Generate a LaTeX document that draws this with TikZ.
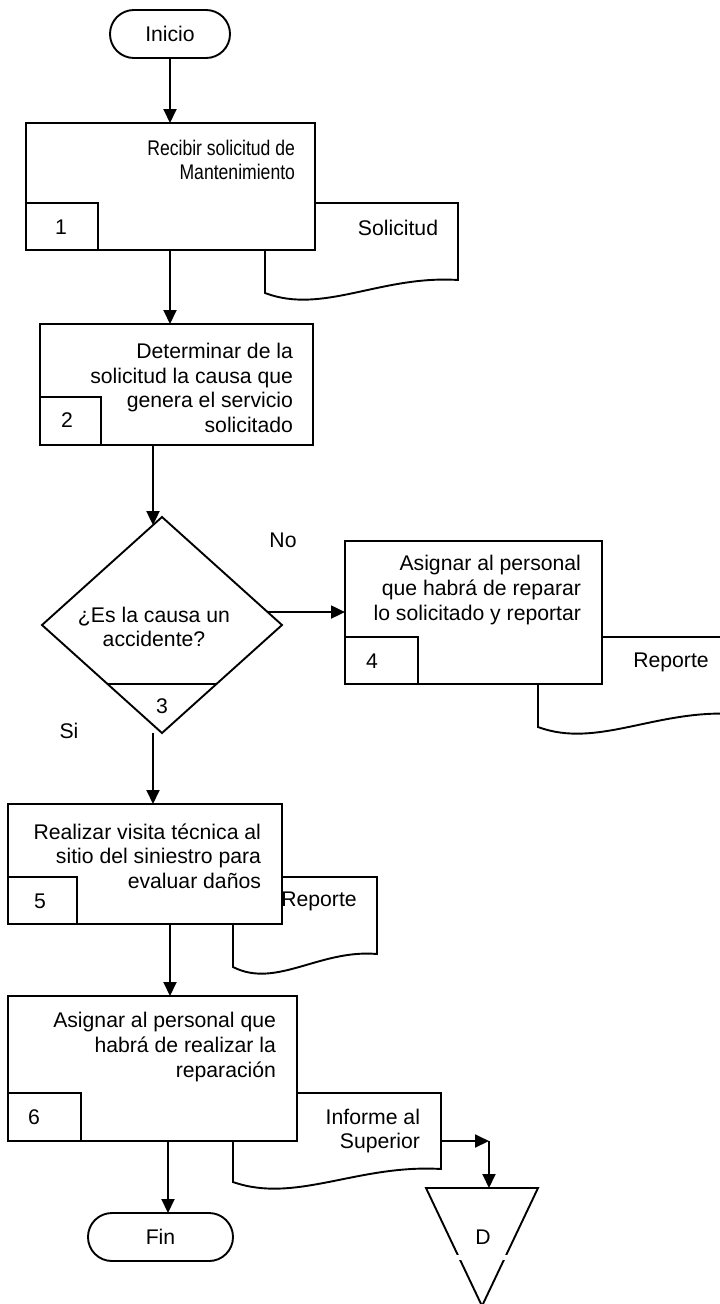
\documentclass[tikz,border=0pt]{standalone}
\usepackage{fontspec}
\setmainfont{Liberation Sans}
\newfontfamily\narrowsans{Liberation Sans}[FakeStretch=0.83]
\usetikzlibrary{arrows.meta,calc,shapes.geometric}

% document symbol: left x, top y, right x, lower-left y (wavy bottom rises to the right)
\newcommand\drawdoc[4]{%
  \draw[stroke, fill=white] (#1,#4) -- (#1,#2) -- (#3,#2) -- (#3,{#4-13})
    .. controls ({#1+0.6*(#3-#1)},{#4-18}) and ({#1+0.3*(#3-#1)},{#4+22}) .. (#1,#4) -- cycle;}

\begin{document}
\begin{tikzpicture}[x=1pt,y=-1pt,
  every node/.style={font=\fontsize{21.2}{24.7}\selectfont, inner sep=0pt, outer sep=0pt},
  stroke/.style={line width=1.9pt, line join=miter},
  procbox/.style={stroke, draw, fill=white, rectangle, anchor=north west},
  numbox/.style={stroke, draw, fill=white, rectangle, anchor=north west},
  terminal/.style={stroke, draw, fill=white, rectangle, rounded corners=23.9pt,
    minimum height=48pt},
  decision/.style={stroke, draw, fill=white, diamond, minimum width=240pt, minimum height=216pt},
  steptext/.style={anchor=east, align=right},
  flow/.style={stroke, -{Triangle[length=14pt,width=13pt]}}
]
\useasboundingbox (0,0) rectangle (720,1304);
\clip (0,0) rectangle (720,1304);

% documents produced by the steps (drawn behind the step boxes)
\drawdoc{265}{203}{458}{293}
\drawdoc{538}{637}{735}{727}
\drawdoc{233}{877}{377}{967}
\drawdoc{233}{1093}{441}{1182}

% start
\node[terminal, minimum width=120pt] (inicio) at (170,34) {Inicio};

% step 1
\node[procbox, minimum width=289pt, minimum height=127pt] (p1) at (26,123) {};
\node[numbox, minimum width=72pt, minimum height=47pt] (n1) at (26,203) {};
\node (t1) at (61,227) {1};
\node[steptext, font=\narrowsans\fontsize{21.2}{24}\selectfont] (d1) at (295,160) {Recibir solicitud de\\Mantenimiento};
\node (s1) at (398,228) {Solicitud};

% step 2
\node[procbox, minimum width=273pt, minimum height=121pt] (p2) at (40,324) {};
\node[numbox, minimum width=61pt, minimum height=48pt] (n2) at (40,397) {};
\node (t2) at (67,420) {2};
\node[steptext] (d2) at (293,388) {Determinar de la\\solicitud la causa que\\genera el servicio\\solicitado};

% step 3: decision
\node[decision] (d) at (162,625) {};
\draw[stroke] ($(d.west)!0.546!(d.south)$) -- ($(d.east)!0.546!(d.south)$);
\node (t3) at (162,706) {3};
\node[align=center] (q3) at (154,627) {¿Es la causa un\\accidente?};
\node (no) at (283,540) {No};
\node (si) at (69,731) {Si};

% step 4
\node[procbox, minimum width=257pt, minimum height=143pt] (p4) at (345,541) {};
\node[numbox, minimum width=73pt, minimum height=47pt] (n4) at (345,637) {};
\node (t4) at (372,661) {4};
\node[steptext] (d4) at (581,590) {Asignar al personal\\que habrá de reparar\\lo solicitado y reportar};
\node (s4) at (671,662) {Reporte};

% step 5
\node[procbox, minimum width=274pt, minimum height=120pt] (p5) at (8,804) {};
\node[numbox, minimum width=69pt, minimum height=47pt] (n5) at (8,877) {};
\node (t5) at (40,901) {5};
\node[steptext] (d5) at (261,856) {Realizar visita técnica al\\sitio del siniestro para\\evaluar daños};
\node (s5) at (319,901) {Reporte};

% step 6
\node[procbox, minimum width=289pt, minimum height=145pt] (p6) at (8,996) {};
\node[numbox, minimum width=73pt, minimum height=48pt] (n6) at (8,1093) {};
\node (t6) at (34,1117) {6};
\node[steptext] (d6) at (276,1047) {Asignar al personal que\\habrá de realizar la\\reparación};
\node[steptext] (s6) at (420,1131) {Informe al\\Superior};

% end
\node[terminal, minimum width=145pt] (fin) at (160.5,1237) {Fin};

% final file (inverted triangle)
\draw[stroke, fill=white] (426,1188) -- (538,1188) -- (482,1306) -- cycle;
\fill[white] (450,1255) rectangle (512,1260);
\node (arch) at (483,1237) {D};

% connectors
\coordinate (dIn) at ($(d.north)!0.075!(d.west)$);
\coordinate (dOut) at ($(d.east)!0.12!(d.north)$);
\coordinate (i6) at (441,1141);
\coordinate (corner) at (489,1141);
\coordinate (triTop) at (489,1188);

\draw[flow] (inicio.south) -- (inicio.south |- p1.north);
\draw[flow] (inicio.south |- p1.south) -- (inicio.south |- p2.north);
\draw[flow] (dIn |- p2.south) -- (dIn);
\draw[flow] (dOut) -- (dOut -| p4.west);
\draw[flow] (dIn |- d.south) -- (dIn |- p5.north);
\draw[flow] (inicio.south |- p5.south) -- (inicio.south |- p6.north);
\draw[flow] ([xshift=7.5pt]fin.north |- p6.south) -- ([xshift=7.5pt]fin.north);
\draw[flow] (i6) -- (corner);
\draw[flow] (corner) -- (triTop);
\end{tikzpicture}
\end{document}
